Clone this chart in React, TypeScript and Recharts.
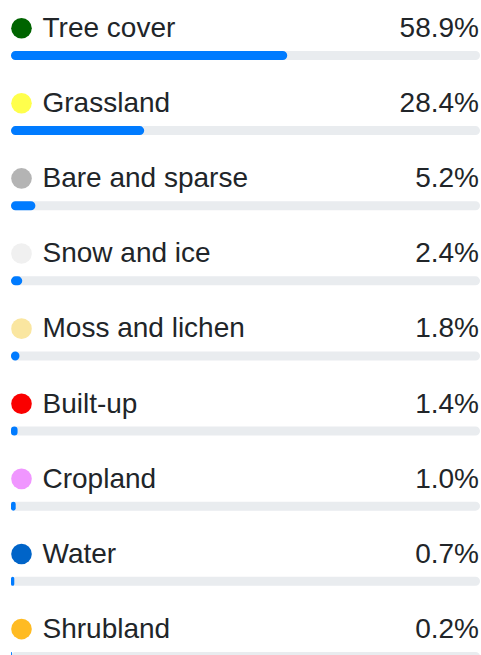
import React from "react";
import { BarChart, Bar, XAxis, YAxis, LabelList } from "recharts";

const categories = [
  "Tree cover",
  "Grassland",
  "Bare and sparse",
  "Snow and ice",
  "Moss and lichen",
  "Built-up",
  "Cropland",
  "Water",
  "Shrubland",
];
const shares = [58.9, 28.4, 5.2, 2.4, 1.8, 1.4, 1.0, 0.7, 0.2];
const dotColors = [
  "#006400",
  "#ffff4c",
  "#b4b4b4",
  "#f0f0f0",
  "#fae6a0",
  "#fa0000",
  "#f096ff",
  "#0064c8",
  "#ffbb22",
];

const data = categories.map((name, i) => ({ name, value: shares[i], color: dotColors[i] }));

const W = 481;
const H = 694;
const FONT = '"Liberation Sans", Arial, Helvetica, sans-serif';

const RowLabel = (props: any) => {
  const { x, y, index } = props;
  const d = data[index];
  return (
    <g>
      <circle cx={x + 10.5} cy={y - 22.8} r={10.3} fill={d.color} />
      <text x={x + 31.5} y={y - 14} fontSize={28} fontFamily={FONT} fill="#212529" textAnchor="start">
        {d.name}
      </text>
      <text x={W - 2} y={y - 14} fontSize={28} fontFamily={FONT} fill="#212529" textAnchor="end">
        {d.value.toFixed(1) + "%"}
      </text>
    </g>
  );
};

export default function App() {
  return (
    <div style={{ position: "absolute", left: 0, top: 0, width: W, height: 655, overflow: "hidden", background: "#fff" }}>
      <BarChart
        width={W}
        height={H}
        data={data}
        layout="vertical"
        margin={{ top: 18, right: 1, bottom: 0, left: 11 }}
      >
        <XAxis type="number" domain={[0, 100]} hide />
        <YAxis type="category" dataKey="name" hide />
        <Bar
          dataKey="value"
          fill="#007bff"
          barSize={9}
          radius={4.5}
          background={{ fill: "#e9ecef", radius: 4.5 }}
          isAnimationActive={false}
        >
          <LabelList dataKey="value" content={<RowLabel />} />
        </Bar>
      </BarChart>
    </div>
  );
}
